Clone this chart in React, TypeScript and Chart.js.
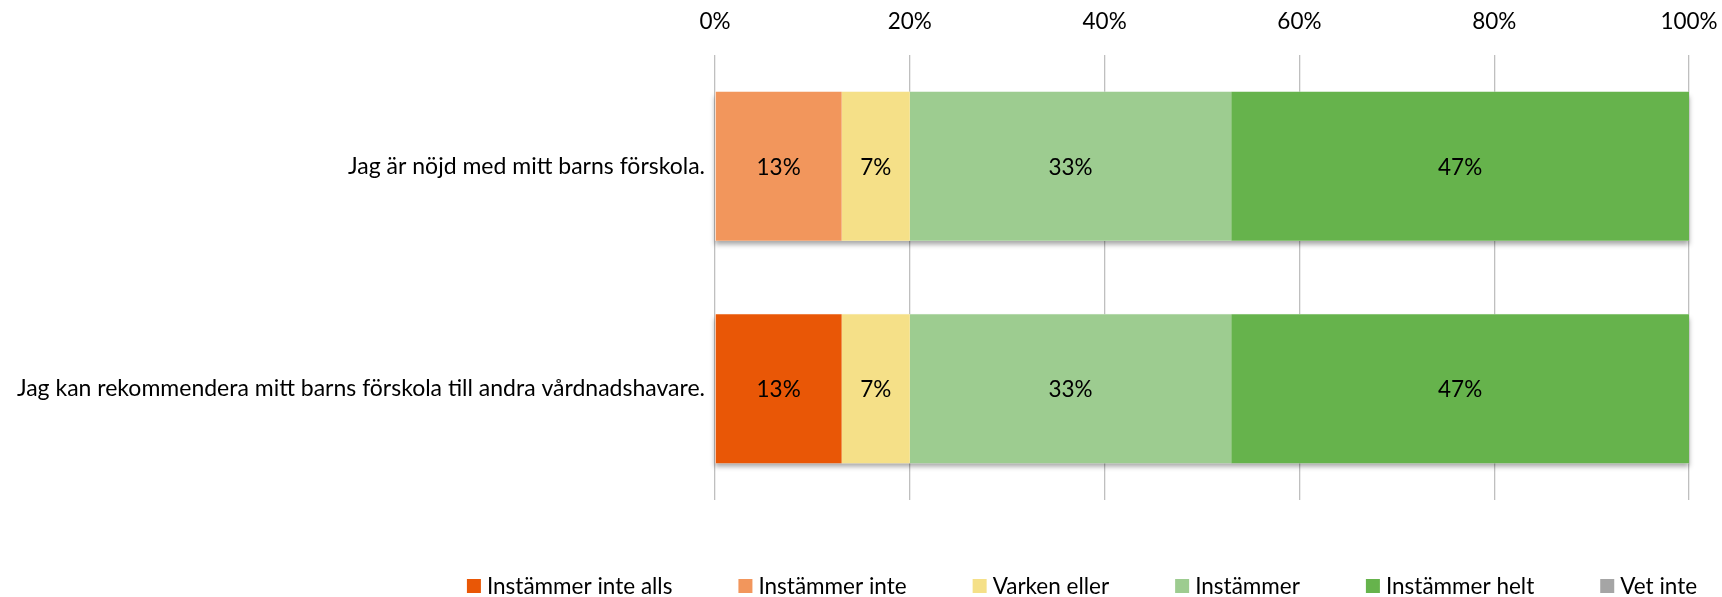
import React, { useEffect, useRef } from 'react';
import { Chart, registerables } from 'chart.js';

Chart.register(...registerables);

const categories = [
  'Jag är nöjd med mitt barns förskola.',
  'Jag kan rekommendera mitt barns förskola till andra vårdnadshavare.',
];
const seriesNames = [
  'Instämmer inte alls',
  'Instämmer inte',
  'Varken eller',
  'Instämmer',
  'Instämmer helt',
  'Vet inte',
];
const instammerInteAlls = [0, 13];
const instammerInte = [13, 0];
const varkenEller = [7, 7];
const instammer = [33, 33];
const instammerHelt = [47, 47];
const vetInte = [0, 0];
const xTicks = [0, 20, 40, 60, 80, 100];

const seriesColors = ['#E95706', '#F2965C', '#F5E088', '#9DCC90', '#66B34C', '#A5A5A5'];

const FONT = 'Lato, Calibri, sans-serif';

const shadowPlugin = {
  id: 'barShadow',
  beforeDatasetsDraw(chart: any) {
    const ctx = chart.ctx;
    const xs = chart.scales.x;
    const meta0 = chart.getDatasetMeta(0);
    chart.data.labels.forEach((_: any, i: number) => {
      const el = meta0.data[i];
      if (!el) return;
      const { y, height } = el.getProps(['y', 'height'], true);
      const total = chart.data.datasets.reduce((s: number, d: any) => s + (d.data[i] || 0), 0);
      const left = xs.getPixelForValue(0);
      const right = xs.getPixelForValue(total);
      ctx.save();
      ctx.shadowColor = 'rgba(0,0,0,0.35)';
      ctx.shadowBlur = 5;
      ctx.shadowOffsetY = 4;
      ctx.fillStyle = '#ffffff';
      ctx.fillRect(left, y - height / 2, right - left, height);
      ctx.restore();
    });
  },
};

const labelPlugin = {
  id: 'segLabels',
  afterDatasetsDraw(chart: any) {
    const ctx = chart.ctx;
    ctx.save();
    ctx.font = `22.5px ${FONT}`;
    ctx.fillStyle = '#000000';
    ctx.textAlign = 'center';
    ctx.textBaseline = 'middle';
    chart.data.datasets.forEach((ds: any, di: number) => {
      const meta = chart.getDatasetMeta(di);
      meta.data.forEach((el: any, j: number) => {
        const v = ds.data[j];
        if (!v) return;
        const p = el.getCenterPoint();
        ctx.fillText(`${v}%`, p.x, p.y + 1);
      });
    });
    ctx.restore();
  },
};

const legendPlugin = {
  id: 'customLegend',
  afterDraw(chart: any) {
    const ctx = chart.ctx;
    ctx.save();
    ctx.font = `22.5px ${FONT}`;
    ctx.textBaseline = 'middle';
    ctx.textAlign = 'left';
    const box = 14;
    const gap = 6;
    const spacing = 66;
    const items = chart.data.datasets.map((d: any) => ({
      text: d.label,
      color: d.backgroundColor,
      w: box + gap + ctx.measureText(d.label).width,
    }));
    const total = items.reduce((s: number, it: any) => s + it.w, 0) + spacing * (items.length - 1);
    let x = 1082 - total / 2;
    const cy = 586;
    items.forEach((it: any) => {
      ctx.fillStyle = it.color;
      ctx.fillRect(x, cy - box / 2, box, box);
      ctx.fillStyle = '#000000';
      ctx.fillText(it.text, x + box + gap, cy + 1);
      x += it.w + spacing;
    });
    ctx.restore();
  },
};

export default function App() {
  const ref = useRef<HTMLCanvasElement | null>(null);

  useEffect(() => {
    document.body.style.margin = '0';
    if (!ref.current) return;
    const seriesData = [instammerInteAlls, instammerInte, varkenEller, instammer, instammerHelt, vetInte];
    const chart = new Chart(ref.current, {
      type: 'bar',
      data: {
        labels: categories,
        datasets: seriesNames.map((name, i) => ({
          label: name,
          data: seriesData[i],
          backgroundColor: seriesColors[i],
          borderWidth: 0,
          barPercentage: 0.67,
          categoryPercentage: 1,
        })),
      },
      options: {
        indexAxis: 'y',
        animation: false,
        responsive: true,
        maintainAspectRatio: false,
        layout: { padding: { left: 0, right: 33, top: 8, bottom: 97 } },
        plugins: {
          legend: { display: false },
          tooltip: { enabled: false },
        },
        scales: {
          x: {
            type: 'linear',
            position: 'top',
            stacked: true,
            min: 0,
            max: 100,
            afterBuildTicks: (s: any) => {
              s.ticks = xTicks.map((v) => ({ value: v }));
            },
            afterFit: (s: any) => {
              s.paddingLeft = 0;
              s.paddingRight = 0;
              s.paddingTop = 0;
              s.paddingBottom = 0;
              s.height = 47;
            },
            ticks: {
              callback: (v: any) => `${v}%`,
              font: { family: FONT, size: 22.5 },
              color: '#000000',
              padding: 20,
              maxRotation: 0,
            },
            grid: { color: '#BFBFBF', lineWidth: 1.3, drawTicks: false },
            border: { display: false },
          },
          y: {
            stacked: true,
            afterFit: (s: any) => {
              s.width = 715;
              s.paddingTop = 0;
              s.paddingBottom = 0;
            },
            ticks: {
              font: { family: FONT, size: 23 },
              color: '#000000',
              padding: 10,
            },
            grid: { display: false, drawTicks: false },
            border: { display: false },
          },
        },
      },
      plugins: [shadowPlugin, labelPlugin, legendPlugin],
    });
    return () => chart.destroy();
  }, []);

  return (
    <div style={{ width: 1722, height: 597, position: 'relative' }}>
      <canvas ref={ref} />
    </div>
  );
}
